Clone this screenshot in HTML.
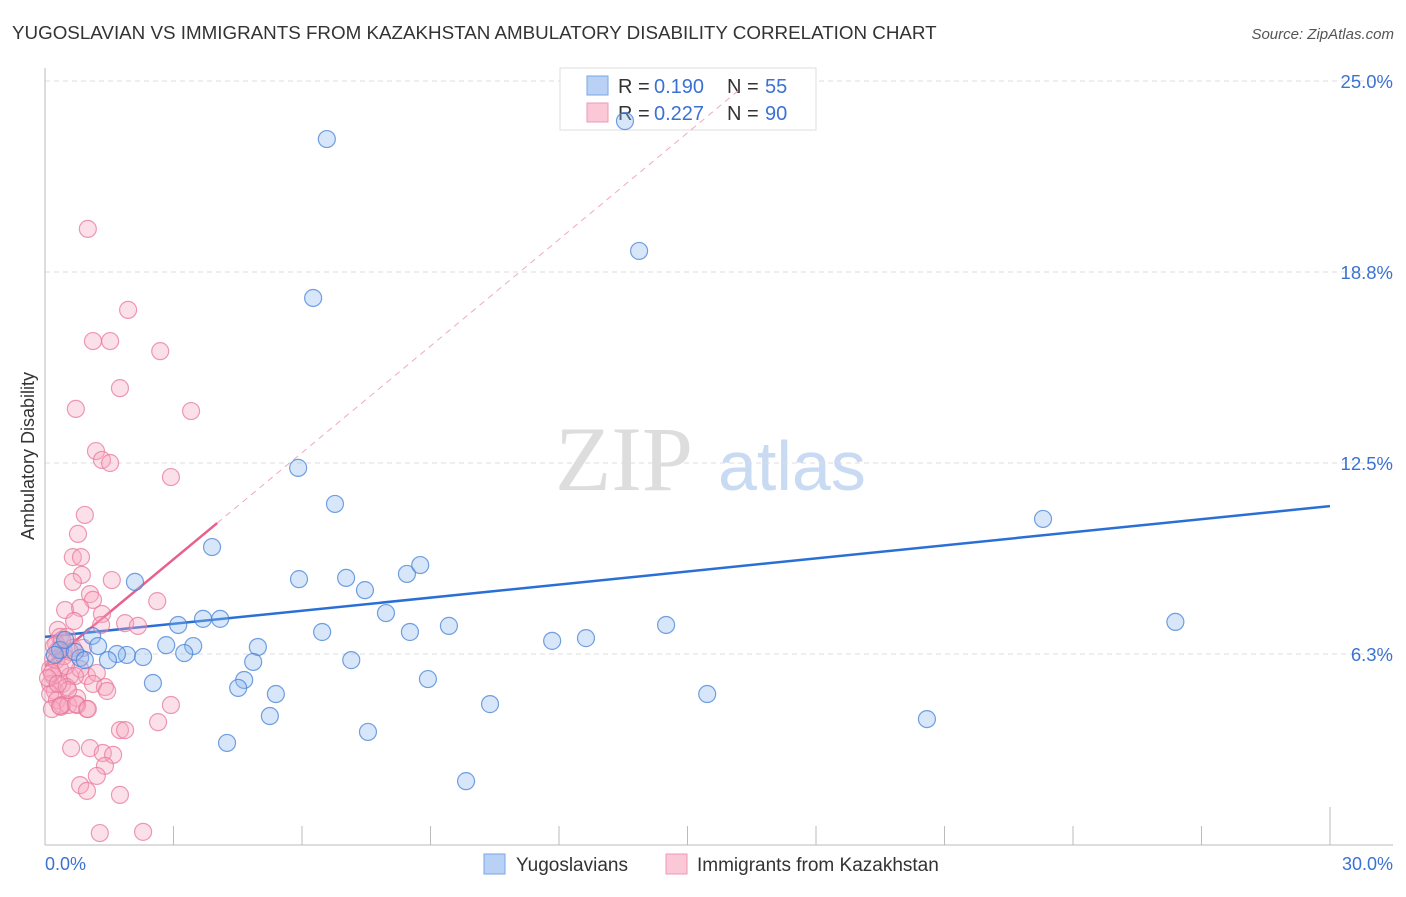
<!DOCTYPE html>
<html><head><meta charset="utf-8"><style>
body{margin:0;background:#fff;width:1406px;height:892px;overflow:hidden;font-family:"Liberation Sans",sans-serif}
</style></head><body>
<svg id="chart" width="1406" height="892" xmlns="http://www.w3.org/2000/svg" font-family="Liberation Sans, sans-serif">
<text x="12" y="39" font-size="18.8" fill="#333">YUGOSLAVIAN VS IMMIGRANTS FROM KAZAKHSTAN AMBULATORY DISABILITY CORRELATION CHART</text>
<text x="1394" y="39" font-size="15" fill="#555" font-style="italic" text-anchor="end">Source: ZipAtlas.com</text>
<g>
<text x="555" y="490" font-size="92" fill="#ddd" font-family="Liberation Serif, serif">ZIP</text>
<text x="718" y="490" font-size="70" fill="#c9daf3">atlas</text>
</g>
<g id="grid"></g><g id="axes"></g>
<g>
<rect x="560" y="68" width="256" height="62" fill="#fff" stroke="#ddd"/>
<rect x="587" y="76" width="21" height="19" fill="#b8d1f5" stroke="#7aa6e6"/>
<rect x="587" y="103" width="21" height="19" fill="#fac8d7" stroke="#ef9ab4"/>
<text x="618" y="93" font-size="20" fill="#333">R =</text><text x="654" y="93" font-size="20" fill="#3a72d4">0.190</text>
<text x="727" y="93" font-size="20" fill="#333">N =</text><text x="765" y="93" font-size="20" fill="#3a72d4">55</text>
<text x="618" y="120" font-size="20" fill="#333">R =</text><text x="654" y="120" font-size="20" fill="#3a72d4">0.227</text>
<text x="727" y="120" font-size="20" fill="#333">N =</text><text x="765" y="120" font-size="20" fill="#3a72d4">90</text>
</g>
<g id="lines"></g><g id="pts"></g>
<text transform="translate(34,456) rotate(-90)" font-size="18" fill="#333" text-anchor="middle">Ambulatory Disability</text>
<g>
<rect x="484" y="854" width="21" height="20" fill="#b8d1f5" stroke="#7aa6e6"/>
<text x="516" y="871" font-size="19" fill="#333">Yugoslavians</text>
<rect x="666" y="854" width="21" height="20" fill="#fac8d7" stroke="#ef9ab4"/>
<text x="697" y="871" font-size="19" fill="#333">Immigrants from Kazakhstan</text>
</g>
</svg>
<script>
const blueX=[6.58,13.54,13.87,6.26,5.91,6.77,3.90,2.10,5.93,7.03,7.47,8.45,8.76,7.96,9.43,8.52,6.47,4.09,3.69,3.11,3.46,2.83,3.25,2.29,1.91,1.68,1.47,1.10,1.24,0.82,0.35,4.97,4.86,7.15,4.65,4.51,5.39,2.52,8.94,5.25,4.25,7.54,10.39,9.83,11.84,12.63,14.50,15.46,20.59,23.30,26.39,0.70,0.93,0.47,0.23];
const blueY=[23.10,23.69,19.44,17.90,12.34,11.16,9.75,8.61,8.70,8.74,8.34,8.87,9.16,7.59,7.17,6.97,6.97,7.40,7.40,7.20,6.51,6.54,6.28,6.15,6.22,6.25,6.05,6.84,6.51,6.12,6.38,6.48,5.99,6.05,5.40,5.14,4.94,5.30,5.43,4.22,3.34,3.70,4.61,2.09,6.68,6.77,7.20,4.94,4.12,10.67,7.30,6.32,6.05,6.71,6.22];
const pinkX=[1.00,1.94,1.12,1.52,2.69,1.75,0.72,3.41,1.19,1.33,1.52,2.94,0.93,0.77,0.65,0.84,0.86,0.65,1.56,2.62,1.05,1.12,0.47,0.82,0.68,1.33,1.31,1.87,2.17,0.30,0.35,0.51,0.26,0.44,0.65,0.89,0.19,0.12,0.35,0.19,0.12,0.40,0.58,0.82,0.98,1.21,1.12,1.40,1.45,0.23,0.51,0.12,0.28,0.40,0.16,0.75,0.98,0.37,0.54,0.75,2.94,2.64,1.75,1.87,0.61,1.05,1.35,1.59,1.40,1.21,0.82,0.98,1.75,1.28,2.29,0.35,0.72,1.00,0.26,0.44,0.58,0.30,0.49,0.16,0.70,0.21,0.40,0.54,0.07,0.30];
const pinkY=[20.16,17.51,16.49,16.49,16.16,14.95,14.27,14.20,12.89,12.60,12.50,12.04,10.80,10.18,9.42,9.42,8.84,8.61,8.67,7.98,8.21,8.02,7.69,7.76,7.33,7.56,7.20,7.26,7.17,7.04,6.81,6.81,6.58,6.35,6.45,6.45,6.09,5.76,5.76,5.53,5.27,5.27,5.53,5.76,5.53,5.63,5.27,5.17,5.04,5.04,5.17,4.94,4.74,4.58,4.45,4.81,4.45,4.52,4.58,4.58,4.58,4.02,3.76,3.76,3.17,3.17,3.01,2.95,2.59,2.26,1.96,1.77,1.64,0.39,0.43,4.55,4.61,4.45,6.05,6.18,6.32,6.38,5.86,5.63,5.53,6.51,6.71,5.07,5.46,5.27];
const yTicks=[6.25,12.5,18.75,25];
const yTickLabels=["6.3%","12.5%","18.8%","25.0%"];
const xTicks=[0,3,6,9,12,15,18,21,24,27,30];
const blueTrend=[6.81,11.09];   // y at x=0, x=30
const pinkTrend=[5.86,1.163];   // intercept, slope
const NS="http://www.w3.org/2000/svg";
const sx=v=>45+v/30*1285, sy=v=>845-v/25*764;
function mk(tag,attrs,parent){const e=document.createElementNS(NS,tag);for(const k in attrs)e.setAttribute(k,attrs[k]);document.getElementById(parent).appendChild(e);return e;}
yTicks.forEach((t,i)=>{
 const l=mk('line',{x1:45,x2:1393,y1:sy(t),y2:sy(t),stroke:'#ddd','stroke-dasharray':'5,4'},'grid');
 
 
 const tx=mk('text',{x:1393,y:sy(t)+7,'font-size':18.5,fill:'#3a72d4','text-anchor':'end'},'grid');
 tx.textContent=yTickLabels[i];
 
 
});
let a=mk('line',{x1:45,x2:45,y1:68,y2:845,stroke:'#bbb'},'axes');


a=mk('line',{x1:45,x2:1393,y1:845,y2:845,stroke:'#bbb'},'axes');


xTicks.forEach(t=>{
 const top=(t===0||t===30)?807:826;
 const l=mk('line',{x1:sx(t),x2:sx(t),y1:top,y2:845,stroke:'#bbb'},'axes');
 
 
});
let xl=mk('text',{x:45,y:870,'font-size':18,fill:'#3a72d4'},'axes');xl.textContent='0.0%';


xl=mk('text',{x:1393,y:870,'font-size':18,fill:'#3a72d4','text-anchor':'end'},'axes');xl.textContent='30.0%';


function dots(X,Y,fill,stroke,name){X.forEach((x,i)=>{const c=mk('circle',{cx:sx(x),cy:sy(Y[i]),r:8.5,fill:fill,stroke:stroke,'stroke-width':1.2},'pts');
 
 });}
dots(pinkX,pinkY,'rgba(245,165,192,0.35)','rgba(232,120,155,0.75)','kazakhstan-point');
dots(blueX,blueY,'rgba(140,182,238,0.35)','rgba(70,130,215,0.75)','yugoslavian-point');
let ln=mk('line',{x1:sx(0),y1:sy(blueTrend[0]),x2:sx(30),y2:sy(blueTrend[1]),stroke:'#2a6fd6','stroke-width':2.5},'lines');


const pe=4.02,pd=16.2;
ln=mk('line',{x1:sx(0),y1:sy(pinkTrend[0]),x2:sx(pe),y2:sy(pinkTrend[0]+pinkTrend[1]*pe),stroke:'#e8608c','stroke-width':2.5},'lines');


ln=mk('line',{x1:sx(pe),y1:sy(pinkTrend[0]+pinkTrend[1]*pe),x2:sx(pd),y2:sy(pinkTrend[0]+pinkTrend[1]*pd),stroke:'#f0a8c0','stroke-width':1,'stroke-dasharray':'6,5'},'lines');


</script>
</body></html>
